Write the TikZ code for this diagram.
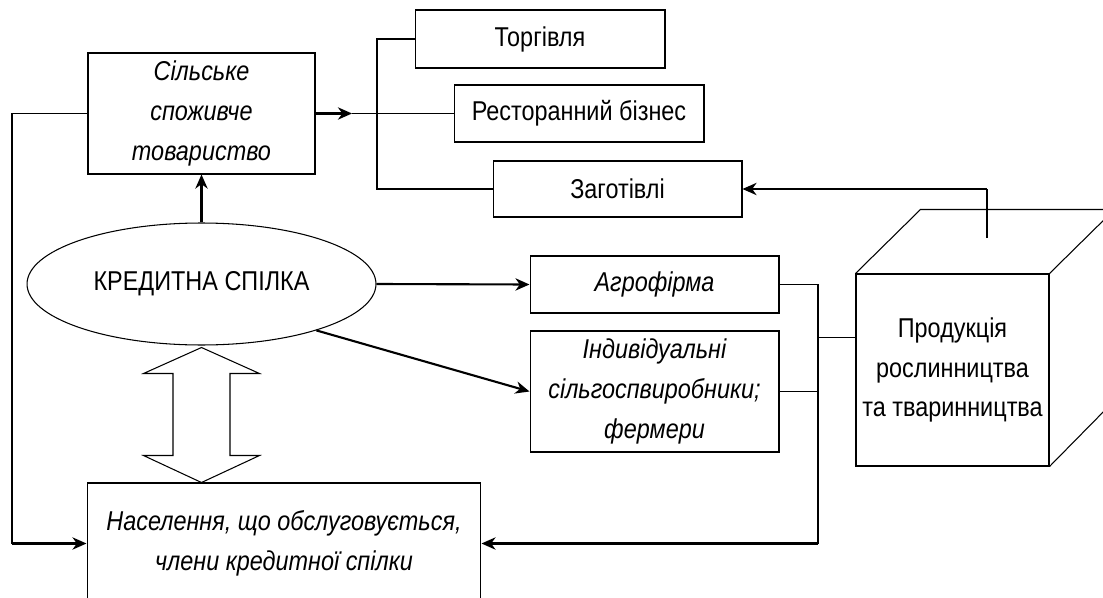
\documentclass[tikz,border=0pt]{standalone}
\usepackage{fontspec}
\setmainfont{Liberation Sans}[FakeStretch=0.86]
\usetikzlibrary{arrows.meta,shapes.geometric,calc}
\newcommand\diagfont{\fontsize{15.5}{22.7}\selectfont}

\begin{document}
\begin{tikzpicture}[
x=0.02cm,
y=-0.02cm,
font=\diagfont,
box/.style={
rectangle,
draw,
line width=0.6pt,
minimum width=4.98cm,
minimum height=1.14cm,
inner sep=0pt,
align=center
},
tallbox/.style={
box,
minimum height=2.42cm
},
itbox/.style={
font=\diagfont\itshape
},
line/.style={
line width=0.6pt
},
arrow/.style={
-{Stealth[length=8pt,width=7pt,inset=2.5pt]},
line width=1.2pt
}
]

\useasboundingbox (0,0) rectangle (1103,598);
\clip (0,0) rectangle (1103,598);

\node[tallbox,itbox,minimum width=4.54cm] (sot) at (201.5,113.5) {Сільське\\споживче\\товариство};
\node[box,minimum width=5cm,minimum height=1.16cm] (torg) at (540,39) {Торгівля};
\node[box,minimum width=5cm] (rest) at (579,113.5) {Ресторанний бізнес};
\node[box,minimum height=1.12cm] (zag) at (617.5,189) {Заготівлі};
\node[ellipse,draw,line width=0.6pt,minimum width=6.98cm,minimum height=2.44cm,inner sep=0pt] (kred) at (201.5,284) {КРЕДИТНА СПІЛКА};
\node[box,itbox] (agro) at (654.5,284.5) {Агрофірма};
\node[tallbox,itbox] (indiv) at (654.5,391.5) {Індивідуальні\\сільгоспвиробники;\\фермери};
\node[tallbox,itbox,minimum width=7.88cm] (nasel) at (284,543.5) {Населення, що обслуговується,\\члени кредитної спілки};
\node[box,minimum width=3.86cm,minimum height=3.84cm] (cube) at (952.5,370) {Продукція\\рослинництва\\та тваринництва};

% cube faces
\draw[line] (cube.north west) -- ++(65,-64) -- ++(193,0) -- ++(0,192) -- (cube.south east);
\draw[line] (cube.north east) -- ++(65,-64);

% double arrow
\draw[line] ($(kred.south)+(0,2)$) -- ++(58,26) -- ++(-29.5,0) -- ++(0,82) -- ++(29.5,0) -- ++(-58,27)
 -- ++(-58,-27) -- ++(29.5,0) -- ++(0,-82) -- ++(-29.5,0) -- cycle;

\coordinate (sottip) at (352,113.5);
\coordinate (trunk) at (377,189);
\coordinate (lcorner) at (12,543.5);
\coordinate (rtop) at (818,284.5);
\coordinate (rbot) at (818,543.5);
\coordinate (ztop) at (987,189);
\coordinate (zbot) at (987,238);
\coordinate (cubein) at ($(cube.north west)!0.333!(cube.south west)$);

\draw[arrow] (kred.north) -- (sot.south);
\draw[arrow] (sot.east) -- (sottip);
\draw[line] (sottip) -- (rest.west);
\draw[line] (torg.west) -| (trunk) -- (zag.west);
\draw[line] (sot.west) -| (lcorner);
\draw[arrow] (lcorner) -- (nasel.west);
\draw[arrow] (kred.east) -- (agro.west);
\draw[arrow] (kred.-22) -- (indiv.west);
\draw[line] (agro.east) -- (rtop) -- (rbot);
\draw[line] (indiv.east) -- (indiv.east -| rtop);
\draw[line] (cubein) -- (cubein -| rtop);
\draw[arrow] (rbot) -- (nasel.east);
\draw[line] (zbot) -- (ztop);
\draw[arrow] (ztop) -- (zag.east);

\end{tikzpicture}
\end{document}
